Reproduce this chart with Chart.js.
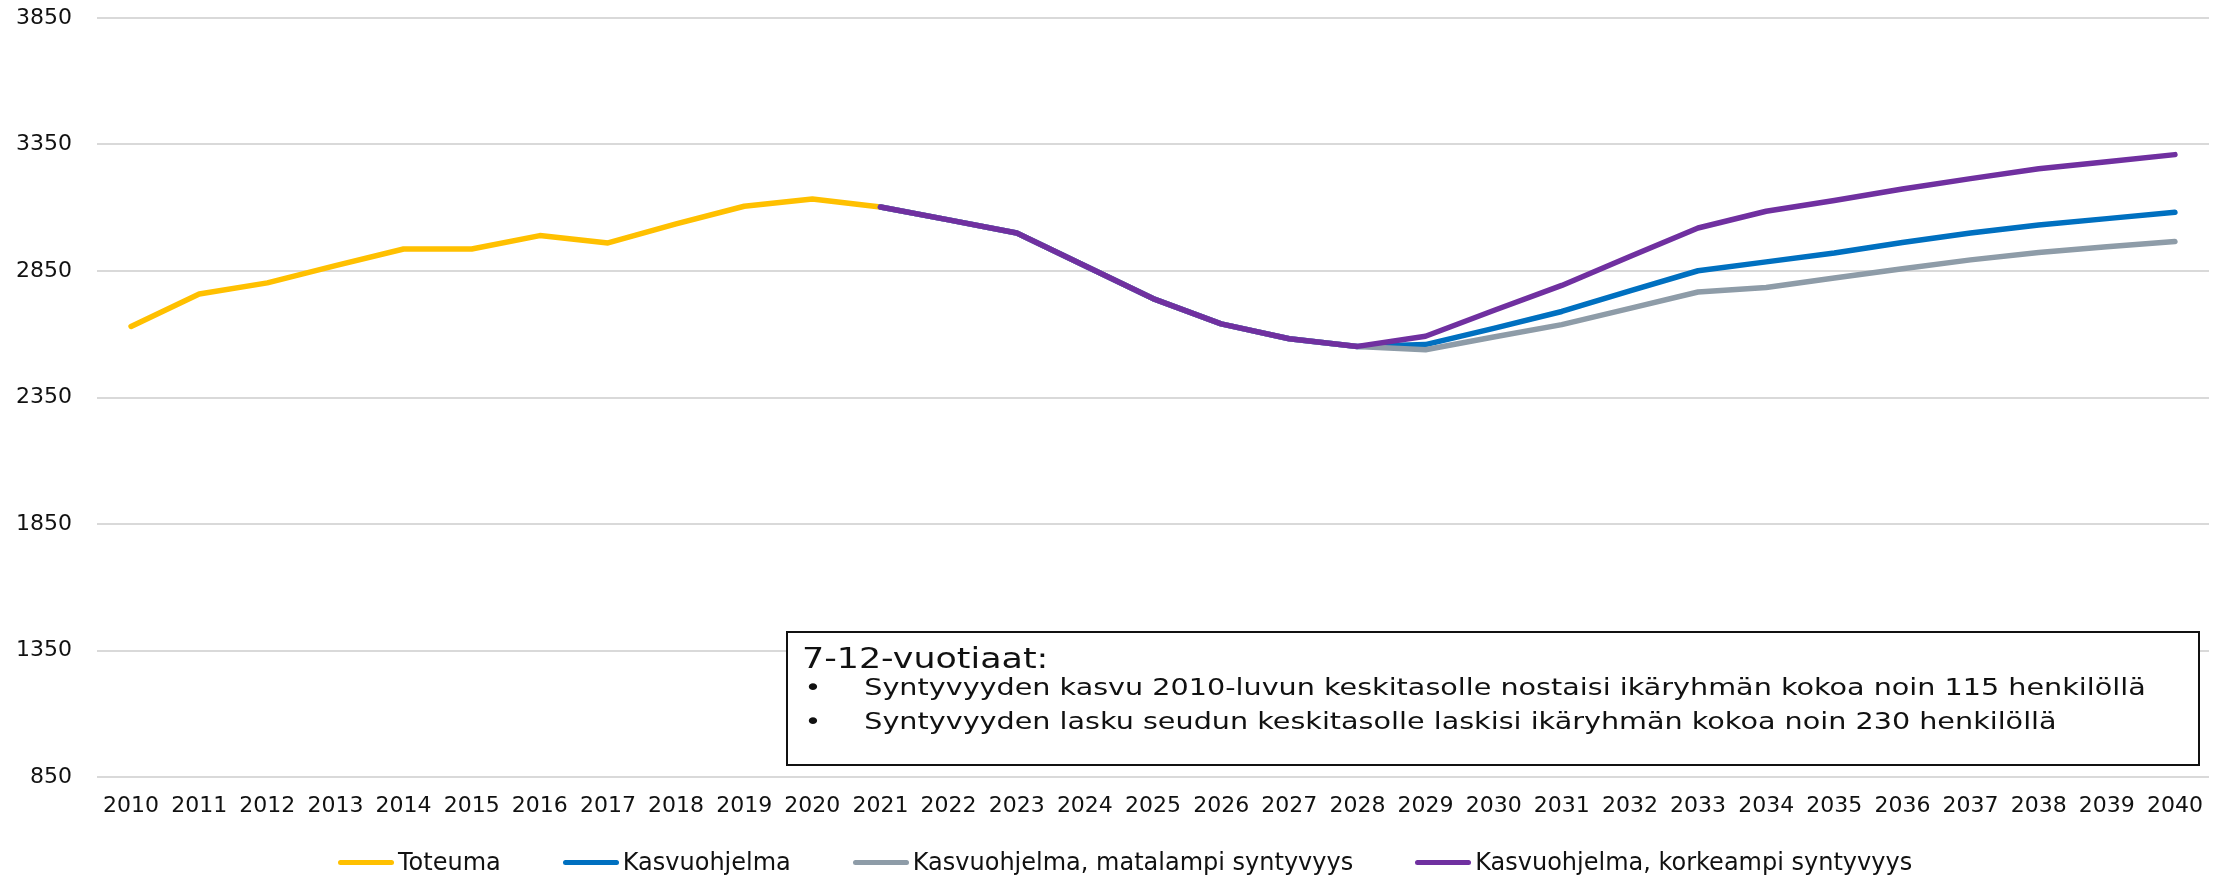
<!DOCTYPE html>
<html>
<head>
<meta charset="utf-8">
<script src="https://cdn.jsdelivr.net/npm/chart.js@4.4.0/dist/chart.umd.min.js"></script>
<style>
  body { margin: 0; background: #fff; }
  #wrap { position: relative; width: 2229px; height: 876px; font-family: "DejaVu Sans", sans-serif; color: #111; }
  #note { position: absolute; left: 786px; top: 631px; width: 1414px; height: 135px; box-sizing: border-box;
          border: 2px solid #111; background: #fff; overflow: hidden; }
  #noteInner { position: absolute; left: 14px; top: 0; transform: scaleX(1.245); transform-origin: 0 0; white-space: nowrap; }
  #noteInner div { position: absolute; left: 0; }
  .title { font-size: 28px; line-height: 33px; top: 9px; }
  .line { font-size: 23px; line-height: 27px; }
  .line .b { position: absolute; left: 2px; }
  .line .t { position: absolute; left: 50px; }
  #legend { position: absolute; left: 338px; top: 847px; height: 30px; display: flex; align-items: center; gap: 62px; }
  .item { display: flex; align-items: center; font-size: 24px; line-height: 30px; white-space: nowrap; }
  .swatch { display: inline-block; width: 56px; height: 5px; border-radius: 3px; margin-right: 4px; }
</style>
</head>
<body>
<div id="wrap">
  <canvas id="chart" width="2229" height="876"></canvas>
  <div id="note"><div id="noteInner"></div></div>
  <div id="legend"></div>
</div>
<script>
// years on the x axis
const years = [];
for (let y = 2010; y <= 2040; y++) years.push(String(y));

// series values (null = no value for that year)
const toteuma = [2631, 2759, 2803, 2871, 2937, 2937, 2990, 2961, 3036, 3106, 3135, 3103,
  null, null, null, null, null, null, null, null, null, null, null, null, null, null, null, null, null, null, null];
const kasvuohjelma = [null, null, null, null, null, null, null, null, null, null, null,
  3103, 3052, 3000, 2871, 2741, 2641, 2582, 2552, 2559, 2623, 2690, 2771, 2851, 2886, 2921, 2963, 3000, 3032, 3057, 3082];
const matalampi = [null, null, null, null, null, null, null, null, null, null, null,
  3103, 3052, 3000, 2871, 2741, 2641, 2582, 2552, 2539, 2589, 2638, 2702, 2767, 2785, 2822, 2859, 2894, 2923, 2946, 2967];
const korkeampi = [null, null, null, null, null, null, null, null, null, null, null,
  3103, 3052, 3000, 2871, 2741, 2641, 2582, 2552, 2592, 2694, 2793, 2907, 3020, 3086, 3129, 3174, 3215, 3254, 3282, 3310];

const seriesNames = ["Toteuma", "Kasvuohjelma", "Kasvuohjelma, matalampi syntyvyys", "Kasvuohjelma, korkeampi syntyvyys"];
const seriesColors = ["#FFC000", "#0070C0", "#8E9CA8", "#7030A0"];

// y axis
const yMin = 850, yMax = 3850, yStep = 500;

// text box
const noteTitle = "7-12-vuotiaat:";
const noteLines = [
  "Syntyvyyden kasvu 2010-luvun keskitasolle nostaisi ikäryhmän kokoa noin 115 henkilöllä",
  "Syntyvyyden lasku seudun keskitasolle laskisi ikäryhmän kokoa noin 230 henkilöllä"
];

Chart.defaults.font.family = '"DejaVu Sans", sans-serif';
Chart.defaults.color = "#111";

const seriesData = [toteuma, kasvuohjelma, matalampi, korkeampi];
// purple on top, then grey, blue, yellow at the bottom
const drawOrder = [3, 2, 1, 0];

const datasets = seriesData.map((d, i) => ({
  label: seriesNames[i],
  data: d,
  borderColor: seriesColors[i],
  backgroundColor: seriesColors[i],
  borderWidth: 5.5,
  borderCapStyle: "round",
  borderJoinStyle: "round",
  pointRadius: 0,
  tension: 0,
  fill: false,
  order: drawOrder[i],
}));

const ctx = document.getElementById("chart").getContext("2d");
const chart = new Chart(ctx, {
  type: "line",
  data: { labels: years, datasets: datasets },
  options: {
    responsive: false,
    animation: false,
    devicePixelRatio: 1,
    layout: { padding: { left: 0, right: 20, top: 18, bottom: 0 } },
    scales: {
      x: {
        offset: true,
        grid: { display: false, drawTicks: false },
        border: { display: false },
        ticks: { autoSkip: false, maxRotation: 0, font: { size: 22 }, padding: 16 },
        afterFit: (scale) => { scale.height = 99; },
      },
      y: {
        min: yMin,
        max: yMax,
        ticks: {
          stepSize: yStep,
          font: { size: 22 },
          padding: 25,
          callback: (v) => String(v),
        },
        grid: { color: "#d9d9d9", lineWidth: 2, drawTicks: false },
        border: { display: false },
        afterFit: (scale) => {
          scale.width = 97;
          scale.paddingTop = 0;
          scale.paddingBottom = 0;
        },
      },
    },
    plugins: {
      legend: { display: false },
      tooltip: { enabled: false },
    },
  },
});

// html legend built from the datasets
const legendEl = document.getElementById("legend");
chart.data.datasets.forEach((ds) => {
  const item = document.createElement("div");
  item.className = "item";
  const sw = document.createElement("span");
  sw.className = "swatch";
  sw.style.background = ds.borderColor;
  item.appendChild(sw);
  item.appendChild(document.createTextNode(ds.label));
  legendEl.appendChild(item);
});

// text box
const inner = document.getElementById("noteInner");
const t = document.createElement("div");
t.className = "title";
t.textContent = noteTitle;
inner.appendChild(t);
const lineTops = [41, 75];
noteLines.forEach((txt, i) => {
  const row = document.createElement("div");
  row.className = "line";
  row.style.top = lineTops[i] + "px";
  row.innerHTML = '<span class="b">•</span><span class="t"></span>';
  row.querySelector(".t").textContent = txt;
  inner.appendChild(row);
});
</script>
</body>
</html>
